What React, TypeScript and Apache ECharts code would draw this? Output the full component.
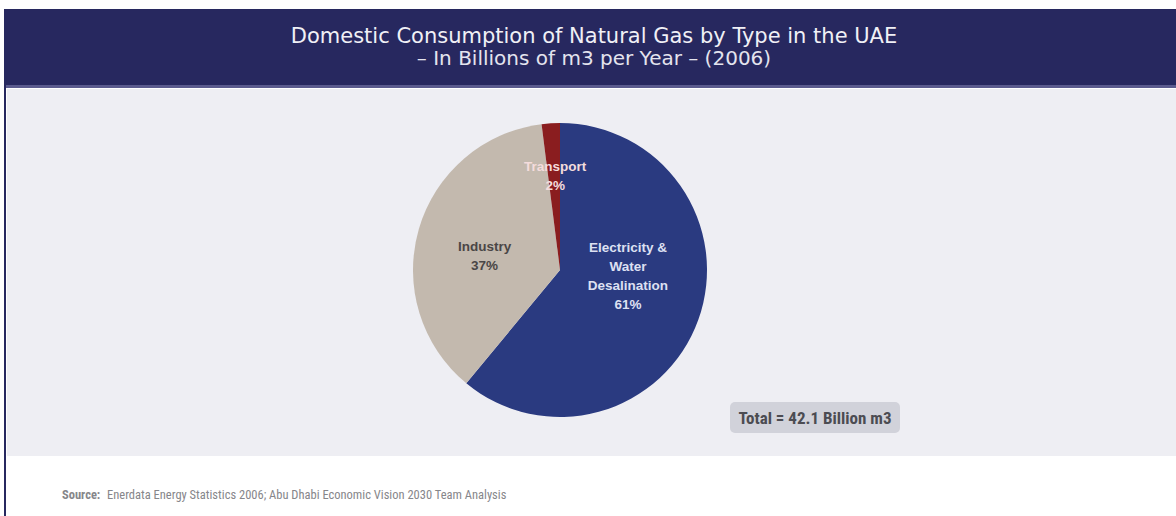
import React, { useEffect, useRef } from "react";
import * as echarts from "echarts";

const titleLine1 = "Domestic Consumption of Natural Gas by Type in the UAE";
const titleLine2 = "– In Billions of m3 per Year – (2006)";
const categories = ["Electricity &\nWater\nDesalination", "Industry", "Transport"];
const shares = [61, 37, 2];
const sliceColors = ["#2a3a80", "#c3b9ae", "#8a1d1f"];
const labelColors = ["#dde0f2", "#4a4646", "#f4dcdc"];
const labelOffsets = [[-4, -20], [-2, 7], [0, -18]];
const totalNote = "Total = 42.1 Billion m3";
const sourceLabel = "Source:";
const sourceText = "Enerdata Energy Statistics 2006; Abu Dhabi Economic Vision 2030 Team Analysis";

export default function App() {
  const ref = useRef<HTMLDivElement>(null);
  useEffect(() => {
    if (!ref.current) return;
    const chart = echarts.init(ref.current, undefined, { renderer: "svg" });
    const narrow = "'Roboto Condensed', 'Liberation Sans Narrow', 'Liberation Sans', sans-serif";
    const sans = "'Liberation Sans', Arial, sans-serif";
    const titleFont = "'DejaVu Sans', sans-serif";
    chart.setOption({
      animation: false,
      backgroundColor: "#ffffff",
      graphic: [
        { type: "rect", z: -10, shape: { x: 4, y: 9, width: 1172, height: 78 }, style: { fill: "#27285f" } },
        { type: "rect", z: -10, shape: { x: 4, y: 85, width: 1172, height: 3 }, style: { fill: "#5b5b8e" } },
        { type: "rect", z: -10, shape: { x: 7, y: 89, width: 1169, height: 367 }, style: { fill: "#eeeef3" } },
        { type: "rect", z: -10, shape: { x: 4, y: 9, width: 2, height: 507 }, style: { fill: "#27285f" } },
        {
          type: "text", x: 594, y: 36,
          style: { text: titleLine1, fill: "#f0f0f6", fontFamily: titleFont, fontSize: 21, align: "center", verticalAlign: "middle" },
        },
        {
          type: "text", x: 594, y: 58,
          style: { text: titleLine2, fill: "#e4e4ee", fontFamily: titleFont, fontSize: 20, align: "center", verticalAlign: "middle" },
        },
        {
          type: "group", left: 730, top: 402,
          children: [
            { type: "rect", shape: { x: 0, y: 0, width: 170, height: 31, r: 5 }, style: { fill: "#d1d2da" } },
            {
              type: "text", x: 85, y: 16,
              style: { text: totalNote, fill: "#4c4c52", fontFamily: narrow, fontWeight: "bold", fontSize: 17, align: "center", verticalAlign: "middle" },
            },
          ],
        },
        {
          type: "text", x: 62, y: 494,
          style: { text: sourceLabel, fill: "#86868a", fontFamily: narrow, fontWeight: "bold", fontSize: 12.5, verticalAlign: "middle" },
        },
        {
          type: "text", x: 107, y: 494,
          style: { text: sourceText, fill: "#86868a", fontFamily: narrow, fontSize: 12.5, verticalAlign: "middle" },
        },
      ],
      series: [
        {
          type: "pie",
          center: [560, 270],
          radius: 147,
          startAngle: 90,
          clockwise: true,
          silent: true,
          labelLine: { show: false },
          data: categories.map((name, i) => ({
            name,
            value: shares[i],
            itemStyle: { color: sliceColors[i] },
            label: {
              show: true,
              position: "inside",
              formatter: "{b}\n{c}%",
              color: labelColors[i],
              fontFamily: sans,
              fontWeight: "bold",
              fontSize: 13.5,
              lineHeight: 19,
              offset: labelOffsets[i],
              textBorderWidth: 0,
            },
          })),
        },
      ],
    });
    return () => chart.dispose();
  }, []);
  return <div ref={ref} style={{ position: "absolute", left: 0, top: 0, width: 1176, height: 516 }} />;
}
